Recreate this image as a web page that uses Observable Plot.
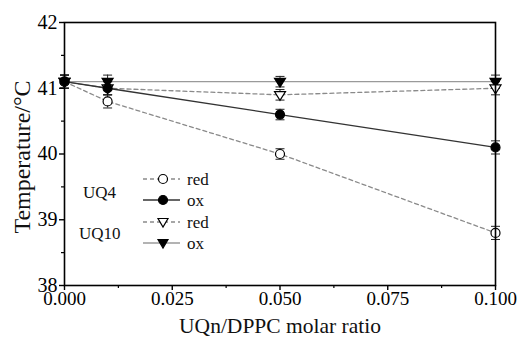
<!DOCTYPE html>
<html>
<head>
<meta charset="utf-8">
<script src="https://cdn.jsdelivr.net/npm/d3@7"></script>
<script src="https://cdn.jsdelivr.net/npm/@observablehq/plot@0.6"></script>
<style>
  html, body { margin: 0; padding: 0; background: #fff; }
  #chart svg { display: block; font-family: "Liberation Serif", "DejaVu Serif", serif !important; }
  #chart svg text, #chart svg g { font-family: "Liberation Serif", "DejaVu Serif", serif !important; }
</style>
</head>
<body>
<div id="chart"></div>
<script>
// Data
const ratios = [0, 0.01, 0.05, 0.1];
const uq4Red = [41.1, 40.8, 40.0, 38.8];
const uq4Ox = [41.1, 41.0, 40.6, 40.1];
const uq10Red = [41.1, 41.0, 40.9, 41.0];
const uq10Ox = [41.1, 41.1, 41.1, 41.1];
const errs = [0.1, 0.1, 0.08, 0.1];
const yTicks = [38, 39, 40, 41, 42];
const yMinor = [38.5, 39.5, 40.5, 41.5];
const xTicks = [0, 0.025, 0.05, 0.075, 0.1];
const xMinor = [0.0125, 0.0375, 0.0625, 0.0875];

const seriesDefs = [
  {key: "UQ10 ox", values: uq10Ox, stroke: "#9a9a9a", dash: null, sym: "tri", fill: "#000"},
  {key: "UQ10 red", values: uq10Red, stroke: "#8a8a8a", dash: "4,3", sym: "tri", fill: "#fff"},
  {key: "UQ4 red", values: uq4Red, stroke: "#8a8a8a", dash: "4,3", sym: "circle", fill: "#fff"},
  {key: "UQ4 ox", values: uq4Ox, stroke: "#333", dash: null, sym: "circle", fill: "#000"}
];

const rows = [];
seriesDefs.forEach(s => s.values.forEach((v, i) => rows.push({series: s.key, x: ratios[i], y: v, e: errs[i], def: s})));

const triDown = {
  draw(ctx, size) {
    const r = Math.sqrt(size) * 0.62;
    ctx.moveTo(-r, -r * 0.6);
    ctx.lineTo(r, -r * 0.6);
    ctx.lineTo(0, r * 1.0);
    ctx.closePath();
  }
};
const cap = {
  draw(ctx, size) {
    ctx.moveTo(-4.5, 0);
    ctx.lineTo(4.5, 0);
  }
};

const font = "Liberation Serif";

const marks = [];
seriesDefs.forEach(s => {
  const d = rows.filter(r => r.series === s.key);
  marks.push(Plot.line(d, {x: "x", y: "y", stroke: s.stroke, strokeWidth: 1.3, strokeDasharray: s.dash}));
});
seriesDefs.forEach(s => {
  const d = rows.filter(r => r.series === s.key);
  marks.push(Plot.ruleX(d, {x: "x", y1: r => r.y - r.e, y2: r => r.y + r.e, stroke: "#222", strokeWidth: 1}));
  marks.push(Plot.dot(d, {x: "x", y: r => r.y - r.e, symbol: cap, stroke: "#222", strokeWidth: 1, r: 3}));
  marks.push(Plot.dot(d, {x: "x", y: r => r.y + r.e, symbol: cap, stroke: "#222", strokeWidth: 1, r: 3}));
});
seriesDefs.forEach(s => {
  const d = rows.filter(r => r.series === s.key);
  marks.push(Plot.dot(d, {x: "x", y: "y", symbol: s.sym === "tri" ? triDown : "circle", r: s.sym === "tri" ? 5 : 4.5, fill: s.fill, stroke: "#000", strokeWidth: 1.2}));
});

const plot = Plot.plot({
  width: 522,
  height: 338,
  marginLeft: 64,
  marginRight: 27,
  marginTop: 22,
  marginBottom: 53,
  style: {fontFamily: font, background: "#fff", color: "#000"},
  x: {domain: [0, 0.1]},
  y: {domain: [38, 42]},
  marks: [
    ...marks,
    Plot.frame({stroke: "#000", strokeWidth: 1.6}),
    Plot.axisY(yTicks, {tickSize: 5, tickPadding: 2, fontSize: 20, tickFormat: d3.format("d"), strokeWidth: 1.4, label: null}),
    Plot.axisY(yMinor, {tickSize: 3, tickFormat: () => "", strokeWidth: 1.2, label: null}),
    Plot.axisX(xTicks, {tickSize: 5, tickPadding: 1, fontSize: 19, tickFormat: d3.format(".3f"), strokeWidth: 1.4, label: null}),
    Plot.axisX(xMinor, {tickSize: 3, tickFormat: () => "", strokeWidth: 1.2, label: null}),
    Plot.text(["UQn/DPPC molar ratio"], {frameAnchor: "bottom", dy: 47, fontSize: 21.5, fill: "#111"}),
    Plot.text(["Temperature/°C"], {frameAnchor: "left", textAnchor: "middle", dx: -42, dy: 3, rotate: -90, fontSize: 24, fill: "#111"})
  ]
});

// Legend inside the plot
const svg = d3.select(plot);
const lg = svg.append("g").attr("fill", "#111").attr("text-anchor", "start");
const legendRows = [
  {def: seriesDefs[2], label: "red", y: 179},
  {def: seriesDefs[3], label: "ox", y: 200},
  {def: seriesDefs[1], label: "red", y: 222},
  {def: seriesDefs[0], label: "ox", y: 243}
];
legendRows.forEach(r => {
  lg.append("line").attr("x1", 143).attr("x2", 180).attr("y1", r.y).attr("y2", r.y)
    .attr("stroke", r.def.stroke).attr("stroke-width", 1.3).attr("stroke-dasharray", r.def.dash);
  if (r.def.sym === "circle") {
    lg.append("circle").attr("cx", 163).attr("cy", r.y).attr("r", 4.5)
      .attr("fill", r.def.fill).attr("stroke", "#000").attr("stroke-width", 1.2);
  } else {
    lg.append("path").attr("transform", `translate(163,${r.y})`)
      .attr("d", "M-5,-3.5L5,-3.5L0,5Z")
      .attr("fill", r.def.fill).attr("stroke", "#000").attr("stroke-width", 1.2);
  }
  lg.append("text").attr("x", 187).attr("y", r.y).attr("dy", "0.35em").attr("font-size", 17).text(r.label);
});
lg.append("text").attr("x", 83).attr("y", 192).attr("dy", "0.35em").attr("font-size", 17).text("UQ4");
lg.append("text").attr("x", 79).attr("y", 233).attr("dy", "0.35em").attr("font-size", 17).text("UQ10");

document.getElementById("chart").appendChild(plot);
</script>
</body>
</html>
